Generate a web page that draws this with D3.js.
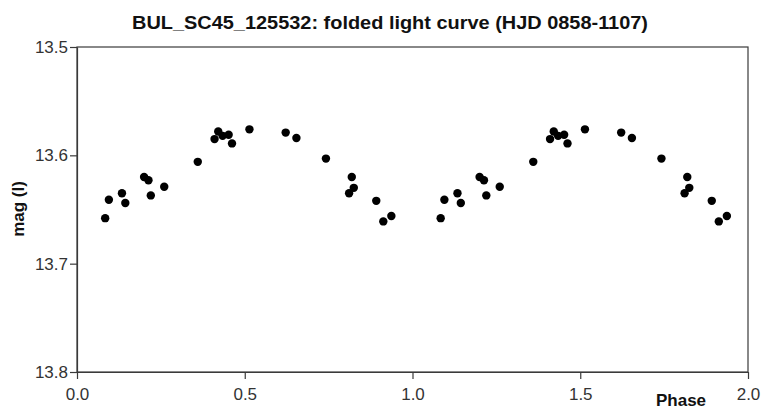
<!DOCTYPE html>
<html><head><meta charset="utf-8">
<script src="https://cdn.jsdelivr.net/npm/d3@7"></script>
<style>body{margin:0;background:#fff}svg{display:block}</style>
</head><body>
<svg id="chart" width="764" height="414"></svg>
<script>
const title = "BUL_SC45_125532: folded light curve (HJD 0858-1107)";
const xLabel = "Phase";
const yLabel = "mag (I)";
const xTicks = [0.0, 0.5, 1.0, 1.5, 2.0];
const yTicks = [13.5, 13.6, 13.7, 13.8];
const phase = [0.084,0.095,0.134,0.144,0.200,0.213,0.220,0.260,0.360,0.410,0.421,0.434,0.452,0.462,0.514,0.622,0.654,0.742,0.819,0.825,0.811,0.892,0.913,0.937,
               1.084,1.095,1.134,1.144,1.200,1.213,1.220,1.260,1.360,1.410,1.421,1.434,1.452,1.462,1.514,1.622,1.654,1.742,1.819,1.825,1.811,1.892,1.913,1.937];
const mag = [13.658,13.641,13.635,13.644,13.620,13.623,13.637,13.629,13.606,13.585,13.578,13.582,13.581,13.589,13.576,13.579,13.584,13.603,13.620,13.630,13.635,13.642,13.661,13.656,
             13.658,13.641,13.635,13.644,13.620,13.623,13.637,13.629,13.606,13.585,13.578,13.582,13.581,13.589,13.576,13.579,13.584,13.603,13.620,13.630,13.635,13.642,13.661,13.656];

const svg = d3.select("#chart");
const L = 77, R = 748, T = 47, B = 372;
const x = d3.scaleLinear().domain([0, 2]).range([L, R]);
const y = d3.scaleLinear().domain([13.5, 13.8]).range([T, B]);
const axisColor = "#3a3a3a";
const font = "'Liberation Sans', Arial, sans-serif";

svg.append("rect").attr("x", L).attr("y", T).attr("width", R - L).attr("height", B - T)
  .attr("fill", "none").attr("stroke", axisColor).attr("stroke-width", 1.2);

const xAxis = svg.append("g").attr("transform", `translate(0,${B})`)
  .call(d3.axisBottom(x).tickValues(xTicks).tickFormat(d3.format(".1f")).tickSize(7).tickSizeOuter(0));
const yAxis = svg.append("g").attr("transform", `translate(${L},0)`)
  .call(d3.axisLeft(y).tickValues(yTicks).tickFormat(d3.format(".1f")).tickSize(7).tickSizeOuter(0));
[xAxis, yAxis].forEach(g => {
  g.select(".domain").attr("stroke", axisColor).attr("stroke-width", 1.2);
  g.selectAll(".tick line").attr("stroke", axisColor).attr("stroke-width", 1.2);
  g.selectAll(".tick text").attr("fill", "#333").attr("font-family", font).attr("font-size", 17);
});
xAxis.selectAll(".tick text").attr("dy", "1.05em");
yAxis.selectAll(".tick text").attr("x", -9);

svg.append("g").selectAll("circle").data(phase.map((p, i) => [p, mag[i]])).join("circle")
  .attr("cx", d => x(d[0])).attr("cy", d => y(d[1])).attr("r", 4.2).attr("fill", "#000");

svg.append("text").attr("x", 390).attr("y", 29).attr("text-anchor", "middle")
  .attr("font-family", font).attr("font-weight", "bold").attr("font-size", 19)
  .attr("textLength", 516).attr("lengthAdjust", "spacingAndGlyphs")
  .attr("fill", "#111").text(title);
svg.append("text").attr("x", 681).attr("y", 406).attr("text-anchor", "middle")
  .attr("font-family", font).attr("font-weight", "bold").attr("font-size", 17)
  .attr("fill", "#111").text(xLabel);
svg.append("text").attr("transform", "translate(24,209) rotate(-90)").attr("text-anchor", "middle")
  .attr("font-family", font).attr("font-weight", "bold").attr("font-size", 17)
  .attr("fill", "#111").text(yLabel);
</script>
</body></html>
